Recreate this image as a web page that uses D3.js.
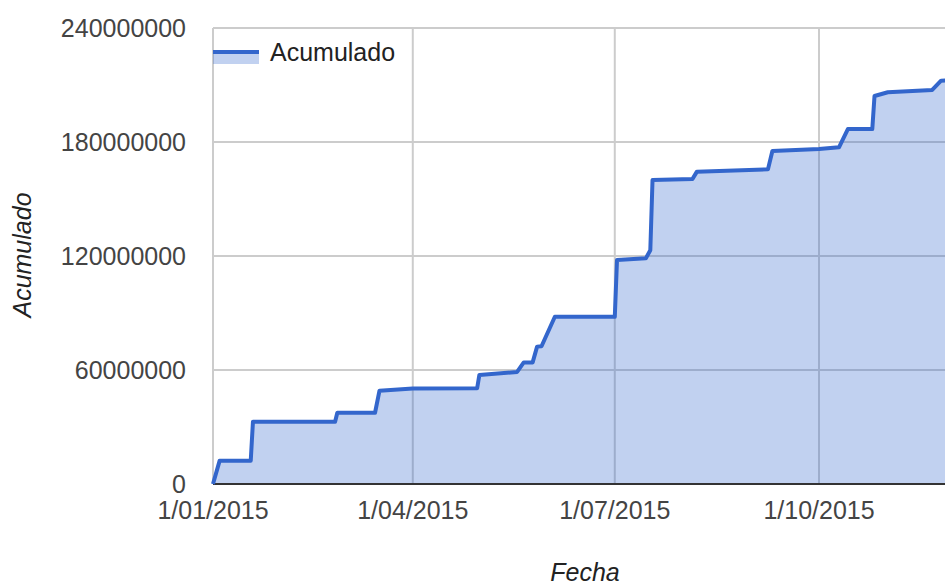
<!DOCTYPE html>
<html>
<head>
<meta charset="utf-8">
<script src="https://cdn.jsdelivr.net/npm/d3@7.9.0/dist/d3.min.js"></script>
<style>
  body { margin: 0; background: #fff; }
  svg { display: block; font-family: "Liberation Sans", Arial, sans-serif; }
</style>
</head>
<body>
<svg id="chart" width="945" height="586"></svg>
<script>
// cumulative total per date
const fechas = [
  '2015-01-01', '2015-01-04', '2015-01-18', '2015-01-19', '2015-02-25', '2015-02-26',
  '2015-03-15', '2015-03-17', '2015-04-01', '2015-04-30', '2015-05-01', '2015-05-18',
  '2015-05-21', '2015-05-25', '2015-05-27', '2015-05-29', '2015-06-04', '2015-07-01',
  '2015-07-02', '2015-07-15', '2015-07-17', '2015-07-18', '2015-08-05', '2015-08-07',
  '2015-09-08', '2015-09-10', '2015-10-01', '2015-10-10', '2015-10-14', '2015-10-25',
  '2015-10-26', '2015-11-01', '2015-11-21', '2015-11-25', '2015-12-31'
];
const acumulado = [
  0, 12300000, 12300000, 32800000, 32800000, 37500000,
  37500000, 49100000, 50200000, 50400000, 57400000, 59000000,
  64000000, 64000000, 72300000, 72500000, 88000000, 88000000,
  117900000, 118800000, 123000000, 160000000, 160500000, 164400000,
  165600000, 175300000, 176300000, 177200000, 186800000, 186800000,
  204200000, 206200000, 207400000, 212300000, 214000000
];
const yTicks = [0, 60000000, 120000000, 180000000, 240000000];
const xTicks = ['2015-01-01', '2015-04-01', '2015-07-01', '2015-10-01'];

const parse = d3.timeParse('%Y-%m-%d');
const data = fechas.map((f, i) => ({ date: parse(f), value: acumulado[i] }));

const svg = d3.select('#chart');
const plotLeft = 213, plotTop = 28, plotBottom = 484;

// plot runs past the right edge of the picture
const x = d3.scaleTime()
  .domain([parse('2015-01-01'), parse('2016-01-01')])
  .range([plotLeft, plotLeft + 365 * 2.2198]);
const y = d3.scaleLinear().domain([0, 240000000]).range([plotBottom, plotTop]);

// grid
svg.append('g').selectAll('line').data(yTicks.slice(1)).join('line')
  .attr('x1', plotLeft).attr('x2', 945)
  .attr('y1', d => y(d)).attr('y2', d => y(d))
  .attr('stroke', '#cccccc').attr('stroke-width', 2);
svg.append('g').selectAll('line').data(xTicks.map(parse)).join('line')
  .attr('x1', d => x(d)).attr('x2', d => x(d))
  .attr('y1', plotTop).attr('y2', plotBottom)
  .attr('stroke', '#cccccc').attr('stroke-width', 2);

// area + line
const area = d3.area().x(d => x(d.date)).y0(y(0)).y1(d => y(d.value));
const line = d3.line().x(d => x(d.date)).y(d => y(d.value));

svg.append('path').datum(data)
  .attr('d', area)
  .attr('fill', '#3366cc').attr('fill-opacity', 0.3);

// baseline
svg.append('line')
  .attr('x1', plotLeft).attr('x2', 945)
  .attr('y1', y(0)).attr('y2', y(0))
  .attr('stroke', '#333333').attr('stroke-width', 2);

svg.append('path').datum(data)
  .attr('d', line)
  .attr('fill', 'none')
  .attr('stroke', '#3366cc').attr('stroke-width', 4)
  .attr('stroke-linejoin', 'round');

// axis labels
svg.append('g').selectAll('text').data(yTicks).join('text')
  .attr('x', 186).attr('y', d => y(d)).attr('dy', '0.35em')
  .attr('text-anchor', 'end')
  .attr('font-size', 25).attr('fill', '#444444')
  .text(d => d);

const fmt = d3.timeFormat('%-d/%m/%Y');
svg.append('g').selectAll('text').data(xTicks.map(parse)).join('text')
  .attr('x', d => x(d)).attr('y', 519)
  .attr('text-anchor', 'middle')
  .attr('font-size', 25).attr('fill', '#444444')
  .text(d => fmt(d));

svg.append('text')
  .attr('x', 585).attr('y', 581)
  .attr('text-anchor', 'middle')
  .attr('font-size', 25).attr('font-style', 'italic').attr('fill', '#222222')
  .text('Fecha');

svg.append('text')
  .attr('transform', 'translate(31,255) rotate(-90)')
  .attr('text-anchor', 'middle')
  .attr('font-size', 25).attr('font-style', 'italic').attr('fill', '#222222')
  .text('Acumulado');

// legend
const lg = svg.append('g');
lg.append('rect')
  .attr('x', plotLeft).attr('y', 52).attr('width', 46).attr('height', 12)
  .attr('fill', '#3366cc').attr('fill-opacity', 0.3);
lg.append('line')
  .attr('x1', plotLeft).attr('x2', plotLeft + 46).attr('y1', 52).attr('y2', 52)
  .attr('stroke', '#3366cc').attr('stroke-width', 4);
lg.append('text')
  .attr('x', 270).attr('y', 61)
  .attr('font-size', 25).attr('fill', '#222222')
  .text('Acumulado');
</script>
</body>
</html>
